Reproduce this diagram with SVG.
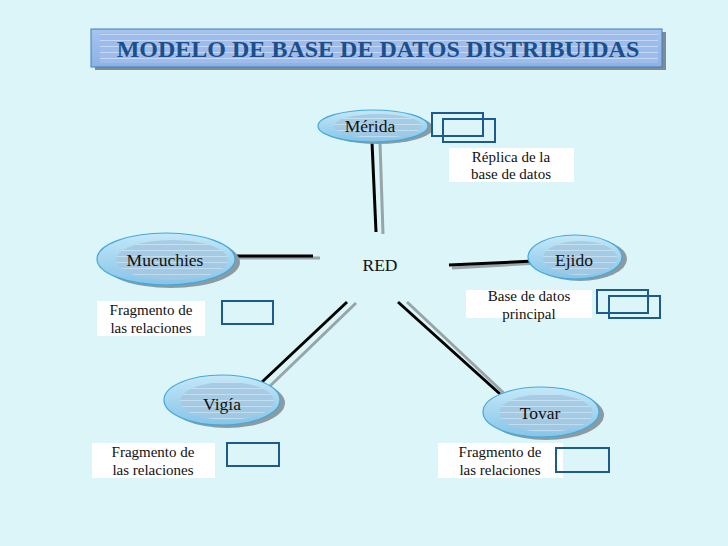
<svg xmlns="http://www.w3.org/2000/svg" width="728" height="546" viewBox="0 0 728 546">
<style>
.bg{fill:#dcf5f9}
.shadow{fill:#8c9ba2}
.ell{fill:url(#ellGrad);stroke:#42a9dc;stroke-width:1.2}
.inner{fill:url(#stripes);opacity:0.85}
.nodeText{font-family:"Liberation Serif",serif;font-size:17.5px;fill:#111;text-anchor:middle}
.lbl{font-family:"Liberation Serif",serif;font-size:15px;fill:#111;text-anchor:middle}
.lblbox{fill:#ffffff}
.db{fill:none;stroke:#1d5a8e;stroke-width:2}
.blk{stroke:#000;stroke-width:3;stroke-linecap:butt}
.gry{stroke:#97a4a8;stroke-width:3;stroke-linecap:butt}
.title{font-family:"Liberation Serif",serif;font-size:24px;font-weight:bold;fill:#1b4f8c;text-anchor:middle}
</style>
<defs>
<linearGradient id="ellGrad" x1="0" y1="0" x2="0" y2="1">
<stop offset="0" stop-color="#c4e8f8"/>
<stop offset="1" stop-color="#86c4e8"/>
</linearGradient>
<pattern id="stripes" patternUnits="userSpaceOnUse" width="8" height="6">
<rect width="8" height="6" fill="#a4c8e2"/>
<rect y="4" width="8" height="1" fill="#c8e0f0"/>
</pattern>
<linearGradient id="titleGrad" x1="0" y1="0" x2="0" y2="1">
<stop offset="0" stop-color="#a6c4ee"/>
<stop offset="1" stop-color="#8cb2e6"/>
</linearGradient>
<pattern id="titleStripes" patternUnits="userSpaceOnUse" width="8" height="6">
<rect width="8" height="6" fill="#9dbcec"/>
<rect y="4" width="8" height="1" fill="#c4d8f4"/>
</pattern>
</defs>
<rect class="bg" x="0" y="0" width="728" height="546"/>

<g id="title">
<rect x="95" y="32" width="571" height="38" fill="#7f8c94"/>
<rect x="91" y="29" width="571" height="38" fill="url(#titleGrad)" stroke="#3f7ec4" stroke-width="1"/>
<rect x="100" y="33" width="558" height="30" fill="url(#titleStripes)"/>
<text class="title" x="378" y="57">MODELO DE BASE DE DATOS DISTRIBUIDAS</text>
</g>

<g id="connectors">
<line class="gry" x1="380" y1="142" x2="383" y2="234"/>
<line class="blk" x1="372" y1="142" x2="376" y2="232"/>
<line class="gry" x1="234" y1="258" x2="320" y2="258"/>
<line class="blk" x1="232" y1="256" x2="313" y2="256"/>
<line class="gry" x1="452" y1="268" x2="538" y2="263"/>
<line class="blk" x1="449" y1="265" x2="534" y2="261"/>
<line class="gry" x1="270" y1="386" x2="356" y2="303"/>
<line class="blk" x1="262" y1="382" x2="347" y2="302"/>
<line class="gry" x1="407" y1="302" x2="508" y2="397"/>
<line class="blk" x1="398" y1="302" x2="500" y2="394"/>
</g>

<g id="red">
<text class="nodeText" x="380" y="271">RED</text>
</g>

<g id="merida">
<ellipse class="shadow" cx="378" cy="128" rx="55" ry="16"/>
<ellipse class="ell" cx="373" cy="126" rx="55" ry="16"/>
<ellipse class="inner" cx="378" cy="126" rx="44" ry="12"/>
<text class="nodeText" x="370" y="132">Mérida</text>
</g>

<g id="mucuchies">
<ellipse class="shadow" cx="171" cy="262" rx="69" ry="26"/>
<ellipse class="ell" cx="166" cy="259" rx="69" ry="26"/>
<ellipse class="inner" cx="172" cy="260" rx="56" ry="20"/>
<text class="nodeText" x="165" y="266">Mucuchies</text>
</g>

<g id="ejido">
<ellipse class="shadow" cx="580" cy="259" rx="47" ry="22"/>
<ellipse class="ell" cx="575" cy="257" rx="47" ry="22"/>
<ellipse class="inner" cx="580" cy="258" rx="37" ry="17"/>
<text class="nodeText" x="574" y="266">Ejido</text>
</g>

<g id="vigia">
<ellipse class="shadow" cx="227" cy="403" rx="58" ry="25"/>
<ellipse class="ell" cx="222" cy="400" rx="58" ry="25"/>
<ellipse class="inner" cx="227" cy="401" rx="47" ry="19"/>
<text class="nodeText" x="222" y="410">Vigía</text>
</g>

<g id="tovar">
<ellipse class="shadow" cx="546" cy="415" rx="58" ry="25"/>
<ellipse class="ell" cx="541" cy="412" rx="58" ry="25"/>
<ellipse class="inner" cx="546" cy="413" rx="47" ry="19"/>
<text class="nodeText" x="540" y="419">Tovar</text>
</g>

<g id="replica">
<rect class="lblbox" x="449" y="148" width="125" height="34"/>
<rect class="db" x="432" y="113" width="51" height="23"/>
<rect class="db" x="443" y="119" width="52" height="23"/>
<text class="lbl" x="511" y="162">Réplica de la</text>
<text class="lbl" x="511" y="179">base de datos</text>
</g>

<g id="principal">
<rect class="lblbox" x="466" y="290" width="126" height="28"/>
<rect class="db" x="597" y="290" width="51" height="23"/>
<rect class="db" x="609" y="296" width="51" height="22"/>
<text class="lbl" x="529" y="301">Base de datos</text>
<text class="lbl" x="529" y="319">principal</text>
</g>

<g id="frag-mucuchies">
<rect class="lblbox" x="97" y="301" width="108" height="35"/>
<rect class="db" x="222" y="301" width="51" height="23"/>
<text class="lbl" x="151" y="315">Fragmento de</text>
<text class="lbl" x="151" y="333">las relaciones</text>
</g>

<g id="frag-vigia">
<rect class="lblbox" x="92" y="443" width="123" height="35"/>
<rect class="db" x="227" y="443" width="52" height="23"/>
<text class="lbl" x="153" y="457">Fragmento de</text>
<text class="lbl" x="153" y="475">las relaciones</text>
</g>

<g id="frag-tovar">
<rect class="lblbox" x="438" y="443" width="125" height="35"/>
<rect class="db" x="556" y="448" width="53" height="24"/>
<text class="lbl" x="500" y="457">Fragmento de</text>
<text class="lbl" x="500" y="475">las relaciones</text>
</g>
</svg>
